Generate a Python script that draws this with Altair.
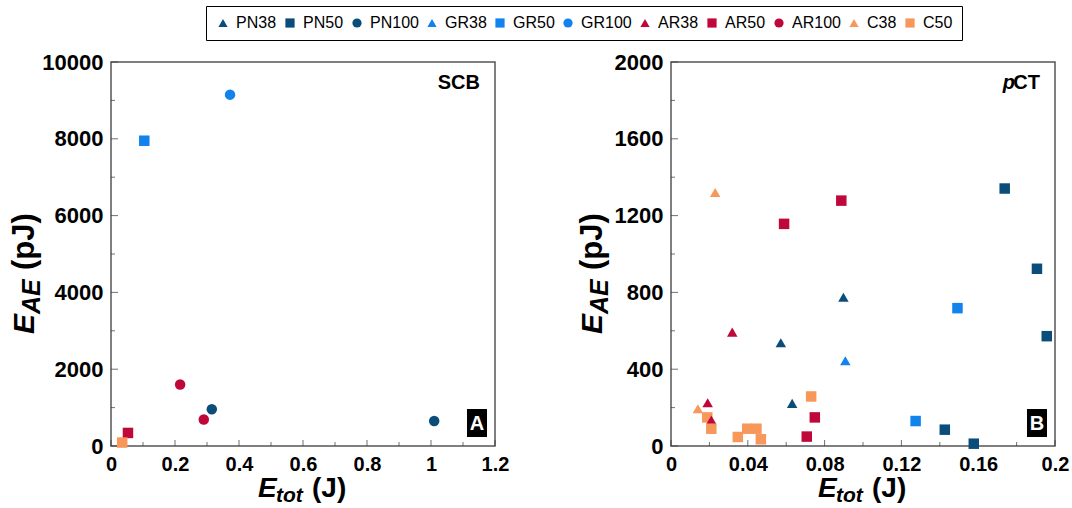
import altair as alt
import pandas as pd

# ---- legend / series definitions ----
series = ["PN38", "PN50", "PN100", "GR38", "GR50", "GR100", "AR38", "AR50", "AR100", "C38", "C50"]
colors = ["#0b4d7a", "#0b4d7a", "#0b4d7a", "#1282ec", "#1282ec", "#1282ec",
          "#c0073a", "#c0073a", "#c0073a", "#f8975a", "#f8975a"]
shapes = ["triangle-up", "square", "circle", "triangle-up", "square", "circle",
          "triangle-up", "square", "circle", "triangle-up", "square"]

# ---- panel A (SCB) ----
scb_series = ["GR100", "GR50", "AR100", "PN100", "AR100", "PN100", "AR50", "C50"]
scb_etot = [0.372, 0.104, 0.216, 0.315, 0.290, 1.010, 0.053, 0.035]
scb_eae = [9150, 7950, 1600, 955, 690, 650, 340, 90]

# ---- panel B (pCT) ----
pct_series = ["C38", "AR50", "AR50", "PN50", "PN50", "PN50", "GR50", "PN38", "AR38", "PN38",
              "GR38", "C50", "PN38", "AR38", "C38", "C50", "AR38", "C50", "AR50", "GR50",
              "PN50", "PN50", "AR50", "C50", "C50", "C50", "C50"]
pct_etot = [0.0230, 0.0887, 0.0589, 0.1738, 0.1906, 0.1957, 0.1492, 0.0898, 0.0319, 0.0572,
            0.0908, 0.0730, 0.0631, 0.0191, 0.0140, 0.0189, 0.0210, 0.0210, 0.0749, 0.1274,
            0.1426, 0.1577, 0.0707, 0.0348, 0.0397, 0.0445, 0.0468]
pct_eae = [1320, 1278, 1157, 1341, 923, 572, 718, 775, 593, 538,
           444, 258, 222, 225, 194, 149, 135, 90, 149, 130,
           85, 12, 49, 47, 90, 90, 35]

W = 384
H = 384
FONT = "Liberation Sans"

color_scale = alt.Scale(domain=series, range=colors)
shape_scale = alt.Scale(domain=series, range=shapes)


def panel(df, xdom, ydom, xmaj, xminor, ymaj, yminor, tag, label_parts, ytx):
    xs = alt.Scale(domain=xdom, nice=False, zero=False)
    ys = alt.Scale(domain=ydom, nice=False, zero=False)
    xaxis = alt.Axis(values=xmaj, format="~g", ticks=False, domain=False, grid=False, title=None,
                     labelFont=FONT, labelFontSize=20, labelFontWeight="bold", labelColor="black",
                     labelPadding=8, labelFlush=False, labelOverlap=False)
    yaxis = alt.Axis(values=ymaj, format="d", ticks=False, domain=False, grid=False, title=None,
                     labelFont=FONT, labelFontSize=22, labelFontWeight="bold", labelColor="black",
                     labelPadding=8, labelFlush=False, labelOverlap=False)

    pts = alt.Chart(df).mark_point(filled=True, size=110, opacity=1).encode(
        x=alt.X("etot:Q", scale=xs, axis=xaxis),
        y=alt.Y("eae:Q", scale=ys, axis=yaxis),
        color=alt.Color("series:N", scale=color_scale, legend=alt.Legend(title=None)),
        shape=alt.Shape("series:N", scale=shape_scale, legend=alt.Legend(title=None)),
    )

    def xticks(vals, L):
        return alt.Chart(pd.DataFrame({"v": vals})).mark_tick(
            size=L, thickness=1, color="#333", orient="vertical").encode(
            x=alt.X("v:Q", scale=xs), y=alt.value(H - L / 2))

    def yticks(vals, L):
        return alt.Chart(pd.DataFrame({"v": vals})).mark_tick(
            size=L, thickness=1, color="#333", orient="horizontal").encode(
            y=alt.Y("v:Q", scale=ys), x=alt.value(L / 2))

    txt = []
    # panel tag text (top right)
    for t, xo, st in label_parts:
        txt.append(alt.Chart(pd.DataFrame({"t": [t]})).mark_text(
            font=FONT, fontSize=20, fontWeight="bold", fontStyle=st, align="right",
            baseline="alphabetic", color="black").encode(
            text="t:N", x=alt.value(W - 15 - xo), y=alt.value(27)))
    # boxed letter (bottom right)
    box = alt.Chart(pd.DataFrame({"t": [tag]})).mark_rect(color="black").encode(
        x=alt.value(W - 28), x2=alt.value(W - 8), y=alt.value(H - 37), y2=alt.value(H - 9))
    boxt = alt.Chart(pd.DataFrame({"t": [tag]})).mark_text(
        font=FONT, fontSize=20, fontWeight="bold", color="white", align="center",
        baseline="middle").encode(text="t:N", x=alt.value(W - 18), y=alt.value(H - 22))

    # axis titles built from pieces (italic symbol + subscript + unit)
    xt = [
        ("E", 147, H + 51, 28, "italic"),
        ("tot", 165, H + 56, 21, "italic"),
        ("(J)", 201, H + 51, 28, "normal"),
    ]
    for t, xx, yy, fs, st in xt:
        txt.append(alt.Chart(pd.DataFrame({"t": [t]})).mark_text(
            font=FONT, fontSize=fs, fontWeight="bold", fontStyle=st, align="left",
            baseline="alphabetic", color="black").encode(
            text="t:N", x=alt.value(xx), y=alt.value(yy)))
    yt = [
        ("E", ytx, 272, 30, "italic"),
        ("AE", ytx + 6, 252, 25, "italic"),
        ("(pJ)", ytx, 208, 31, "normal"),
    ]
    for t, xx, yy, fs, st in yt:
        txt.append(alt.Chart(pd.DataFrame({"t": [t]})).mark_text(
            font=FONT, fontSize=fs, fontWeight="bold", fontStyle=st, align="left",
            baseline="alphabetic", angle=270, color="black").encode(
            text="t:N", x=alt.value(xx), y=alt.value(yy)))

    layers = [xticks(xmaj, 6), xticks(xminor, 4), yticks(ymaj, 7), yticks(yminor, 4),
              pts, box, boxt] + txt
    return alt.layer(*layers).properties(width=W, height=H)


df_a = pd.DataFrame({"series": scb_series, "etot": scb_etot, "eae": scb_eae})
df_b = pd.DataFrame({"series": pct_series, "etot": pct_etot, "eae": pct_eae})

left = panel(df_a, [0, 1.2], [0, 10000],
             [0, 0.2, 0.4, 0.6, 0.8, 1.0, 1.2], [0.1, 0.3, 0.5, 0.7, 0.9, 1.1],
             [0, 2000, 4000, 6000, 8000, 10000], [1000, 3000, 5000, 7000, 9000],
             "A", [("SCB", 0, "normal")], -77)
right = panel(df_b, [0, 0.2], [0, 2000],
              [0, 0.04, 0.08, 0.12, 0.16, 0.2], [0.02, 0.06, 0.1, 0.14, 0.18],
              [0, 400, 800, 1200, 1600, 2000], [200, 600, 1000, 1400, 1800],
              "B", [("CT", 0, "normal"), ("p", 25, "italic")], -69)

chart = alt.hconcat(left, right, spacing=66).resolve_scale(
    x="independent", y="independent", color="shared", shape="shared"
).properties(
    padding={"left": 8, "top": 5, "right": 0, "bottom": 0}
).configure_view(
    stroke="#555", strokeWidth=1.5
).configure_legend(
    orient="none", legendX=95, legendY=-56, direction="horizontal", columns=11,
    labelFont=FONT, labelFontSize=16, labelColor="black", symbolSize=85,
    symbolStrokeWidth=0, columnPadding=5, labelOffset=5, strokeColor="black",
    padding=9, fillColor="white"
)

chart.save("out.html", embed_options={"renderer": "svg", "actions": False})
